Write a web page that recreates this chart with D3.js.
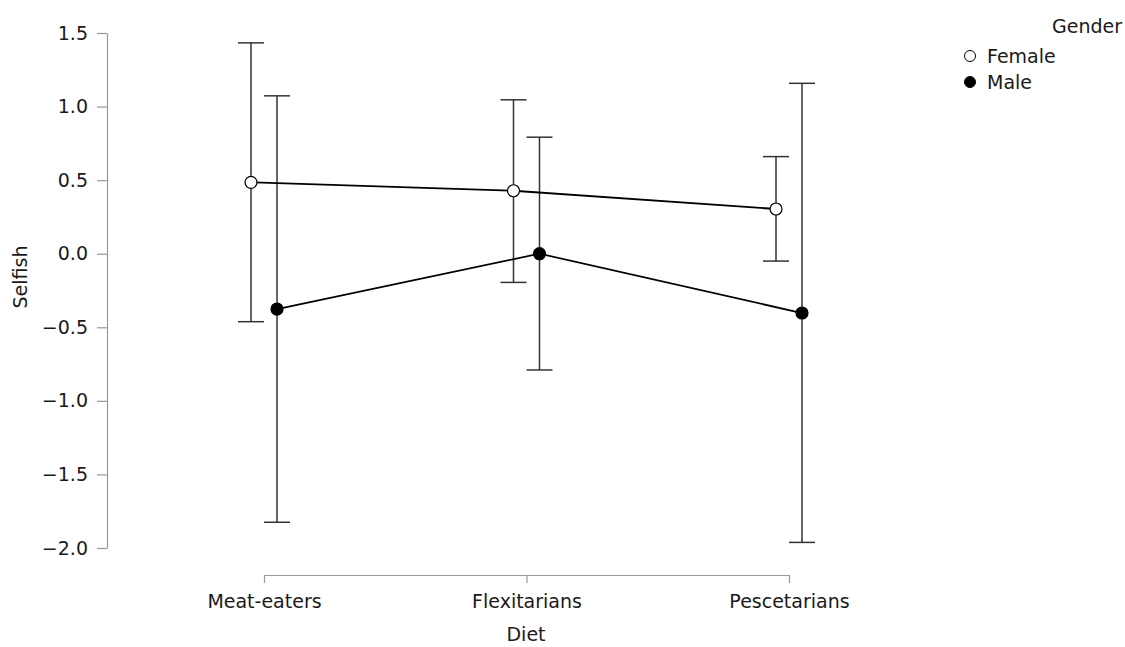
<!DOCTYPE html>
<html>
<head>
<meta charset="utf-8">
<script src="https://cdn.jsdelivr.net/npm/d3@7"></script>
<style>
  html, body { margin: 0; padding: 0; background: #fff; }
  svg { display: block; }
  text { font-family: "DejaVu Sans", sans-serif; fill: #1a1a1a; }
</style>
</head>
<body>
<svg id="chart" width="1125" height="647"></svg>
<script>
const categories = ["Meat-eaters", "Flexitarians", "Pescetarians"];
const genders = ["Female", "Male"];
const femaleMean = [0.485, 0.428, 0.304];
const femaleLower = [-0.462, -0.195, -0.050];
const femaleUpper = [1.433, 1.046, 0.660];
const maleMean = [-0.376, 0.000, -0.403];
const maleLower = [-1.825, -0.790, -1.962];
const maleUpper = [1.073, 0.792, 1.158];
const yTicks = [-2.0, -1.5, -1.0, -0.5, 0.0, 0.5, 1.0, 1.5];

const series = [
  { name: genders[0], mean: femaleMean, lo: femaleLower, hi: femaleUpper, fill: "#ffffff", offset: -13 },
  { name: genders[1], mean: maleMean, lo: maleLower, hi: maleUpper, fill: "#000000", offset: 13 }
];

const svg = d3.select("#chart");
const FS = 19;

const x = d3.scalePoint().domain(categories).range([264, 789]);
const y = d3.scaleLinear().domain([-2, 1.5]).range([548, 33]);

// Y axis
const yAxis = svg.append("g").attr("transform", "translate(107,0)")
  .call(d3.axisLeft(y).tickValues(yTicks).tickFormat(d3.format(".1f")).tickSize(10).tickPadding(9).tickSizeOuter(0));
yAxis.select(".domain").attr("stroke", "#999").attr("stroke-width", 1.2);
yAxis.selectAll(".tick line").attr("stroke", "#999").attr("stroke-width", 1.2);
yAxis.selectAll(".tick text").attr("font-size", FS).attr("fill", "#1a1a1a")
  .attr("font-family", "DejaVu Sans, sans-serif")
  .text(d => d3.format(".1f")(d).replace("-", "\u2212"));

// X axis
const xAxis = svg.append("g").attr("transform", "translate(0,575)")
  .call(d3.axisBottom(x).tickSize(8).tickPadding(12).tickSizeOuter(0));
xAxis.select(".domain").attr("stroke", "#999").attr("stroke-width", 1.2);
xAxis.selectAll(".tick line").attr("stroke", "#999").attr("stroke-width", 1.2);
xAxis.selectAll(".tick text").attr("font-size", FS).attr("fill", "#1a1a1a")
  .attr("font-family", "DejaVu Sans, sans-serif");

// Axis titles
svg.append("text").attr("x", 526).attr("y", 641).attr("text-anchor", "middle")
  .attr("font-size", FS).text("Diet");
svg.append("text").attr("transform", "translate(27,277) rotate(-90)").attr("text-anchor", "middle")
  .attr("font-size", FS).text("Selfish");

// Error bars
const capHalf = 13;
series.forEach(s => {
  const g = svg.append("g");
  categories.forEach((c, i) => {
    const cx = x(c) + s.offset;
    g.append("line").attr("x1", cx).attr("x2", cx).attr("y1", y(s.lo[i])).attr("y2", y(s.hi[i]))
      .attr("stroke", "#333").attr("stroke-width", 1.5);
    [s.lo[i], s.hi[i]].forEach(v => {
      g.append("line").attr("x1", cx - capHalf).attr("x2", cx + capHalf).attr("y1", y(v)).attr("y2", y(v))
        .attr("stroke", "#333").attr("stroke-width", 1.5);
    });
  });
});

// Lines
series.forEach(s => {
  const line = d3.line().x((d, i) => x(categories[i]) + s.offset).y(d => y(d));
  svg.append("path").datum(s.mean).attr("d", line).attr("fill", "none")
    .attr("stroke", "#000").attr("stroke-width", 1.8);
});

// Points
series.forEach(s => {
  svg.append("g").selectAll("circle").data(s.mean).join("circle")
    .attr("cx", (d, i) => x(categories[i]) + s.offset)
    .attr("cy", d => y(d))
    .attr("r", 6)
    .attr("fill", s.fill)
    .attr("stroke", "#000").attr("stroke-width", 1.2);
});

// Legend
svg.append("text").attr("x", 1122).attr("y", 33).attr("text-anchor", "end")
  .attr("font-size", FS).text("Gender");
series.forEach((s, i) => {
  const ly = 56 + i * 26;
  svg.append("circle").attr("cx", 970).attr("cy", ly).attr("r", 5.5)
    .attr("fill", s.fill).attr("stroke", "#000").attr("stroke-width", 1);
  svg.append("text").attr("x", 987).attr("y", ly + 7).attr("font-size", FS).text(s.name);
});
</script>
</body>
</html>
